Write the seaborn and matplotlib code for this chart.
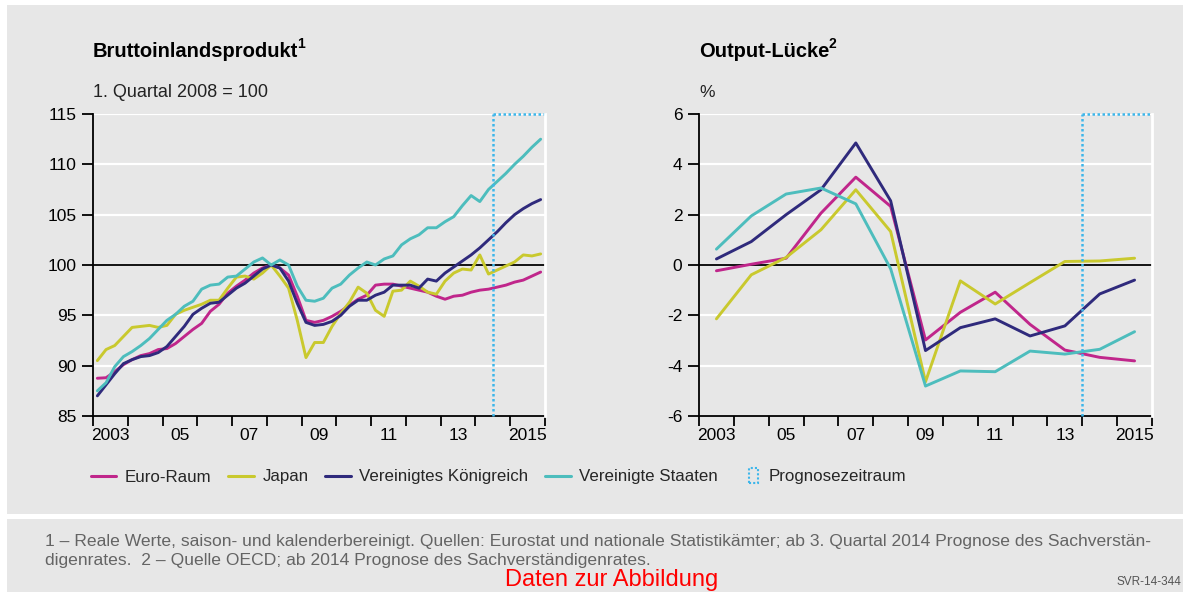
import matplotlib
matplotlib.use("Agg")
import matplotlib.pyplot as plt
import pandas as pd
import seaborn as sns
from matplotlib.lines import Line2D
from matplotlib.patches import Rectangle
from matplotlib.legend_handler import HandlerPatch

# ---------------- data ----------------
quarters = pd.period_range("2003Q1", "2015Q4", freq="Q")
years = list(range(2003, 2016))

series_names = ["Euro-Raum", "Japan", "Vereinigtes Königreich", "Vereinigte Staaten"]

gdp_euro = [88.75, 88.8, 89.4, 90.1,
            90.6, 91.0, 91.2, 91.6,
            91.7, 92.2, 92.9, 93.6,
            94.2, 95.4, 96.1, 97.2,
            97.9, 98.5, 99.2, 99.7,
            100.0, 99.7, 99.0, 96.9,
            94.5, 94.3, 94.5, 94.9,
            95.4, 96.0, 96.6, 97.0,
            98.0, 98.1, 98.1, 97.9,
            97.7, 97.5, 97.3, 96.9,
            96.6, 96.9, 97.0, 97.3,
            97.5, 97.6, 97.8, 98.0,
            98.3, 98.5, 98.9, 99.3]
gdp_japan = [90.5, 91.6, 92.0, 92.9,
             93.8, 93.9, 94.0, 93.8,
             94.0, 95.1, 95.5, 95.8,
             96.1, 96.5, 96.5, 97.7,
             98.8, 98.9, 98.6, 99.2,
             100.0, 98.9, 97.7, 94.5,
             90.8, 92.3, 92.3, 93.9,
             95.2, 96.3, 97.8, 97.2,
             95.5, 94.9, 97.4, 97.5,
             98.4, 97.9, 97.3, 97.1,
             98.4, 99.2, 99.6, 99.5,
             101.0, 99.1, 99.5, 99.9,
             100.3, 101.0, 100.9, 101.1]
gdp_uk = [87.0, 88.1, 89.2, 90.2,
          90.6, 90.9, 91.0, 91.3,
          91.9, 92.9, 93.9, 95.1,
          95.7, 96.2, 96.3, 97.0,
          97.7, 98.2, 98.9, 99.6,
          100.0, 99.7, 98.4, 96.2,
          94.3, 94.0, 94.1, 94.4,
          95.0, 95.9, 96.5, 96.5,
          97.0, 97.3, 98.0, 98.0,
          98.0, 97.7, 98.6, 98.4,
          99.2, 99.8, 100.4, 101.0,
          101.7, 102.5, 103.3, 104.2,
          105.0, 105.6, 106.1, 106.5]
gdp_us = [87.5, 88.3, 89.9, 90.9,
          91.4, 92.0, 92.7, 93.6,
          94.5, 95.1, 95.9, 96.4,
          97.6, 98.0, 98.1, 98.8,
          98.9, 99.6, 100.3, 100.7,
          100.0, 100.5, 100.0, 97.9,
          96.5, 96.4, 96.7, 97.7,
          98.1, 99.0, 99.7, 100.3,
          100.0, 100.6, 100.9, 102.0,
          102.6, 103.0, 103.7, 103.7,
          104.3, 104.8, 105.9, 106.9,
          106.3, 107.5, 108.3, 109.1,
          110.0, 110.8, 111.7, 112.5]

gap_euro = [-0.23, 0.03, 0.27, 2.06, 3.49, 2.33, -2.98, -1.88, -1.08, -2.36, -3.38, -3.67, -3.81]
gap_japan = [-2.14, -0.39, 0.3, 1.4, 2.99, 1.33, -4.64, -0.63, -1.55, -0.7, 0.14, 0.16, 0.27]
gap_uk = [0.24, 0.93, 2.0, 2.99, 4.85, 2.55, -3.4, -2.49, -2.14, -2.82, -2.42, -1.15, -0.6]
gap_us = [0.63, 1.95, 2.82, 3.06, 2.43, -0.15, -4.81, -4.21, -4.24, -3.42, -3.54, -3.35, -2.65]

forecast_label = "Prognosezeitraum"
forecast_start_gdp = 2014.5   # ab 3. Quartal 2014
forecast_start_gap = 2014.0   # ab 2014

xtick_years = [2003, 2005, 2007, 2009, 2011, 2013, 2015]
xtick_labels = ["2003", "05", "07", "09", "11", "13", "2015"]
gdp_yticks = [85, 90, 95, 100, 105, 110, 115]
gap_yticks = [-6, -4, -2, 0, 2, 4, 6]

colors = ["#c0268b", "#c9c92e", "#2f2a7c", "#4dbdbd"]
forecast_color = "#3db6ea"
bg = "#e7e7e7"

# ---------------- frames ----------------
q_pos = [p.year + (p.quarter - 0.5) / 4 for p in quarters]
gdp_df = pd.concat([
    pd.DataFrame({"pos": q_pos, "value": v, "series": n})
    for n, v in zip(series_names, [gdp_euro, gdp_japan, gdp_uk, gdp_us])
])
y_pos = [y + 0.5 for y in years]
gap_df = pd.concat([
    pd.DataFrame({"pos": y_pos, "value": v, "series": n})
    for n, v in zip(series_names, [gap_euro, gap_japan, gap_uk, gap_us])
])

# ---------------- style ----------------
sns.set_theme(style="white")
plt.rcParams["font.family"] = ["Liberation Sans", "DejaVu Sans"]
plt.rcParams["axes.unicode_minus"] = False

W, H = 1183, 592
fig = plt.figure(figsize=(W / 100, H / 100), dpi=100)
fig.patch.set_facecolor("white")

def fx(px):
    return px / W

def fy(py):
    return 1 - py / H

# background panels
fig.add_artist(Rectangle((fx(7), fy(514)), 1 - fx(7), (514 - 5) / H,
                         transform=fig.transFigure, facecolor=bg, edgecolor="none", zorder=-10))
fig.add_artist(Rectangle((fx(7), 0), 1 - fx(7), (592 - 519) / H,
                         transform=fig.transFigure, facecolor=bg, edgecolor="none", zorder=-10))

ax1 = fig.add_axes([fx(93), fy(416), fx(545) - fx(93), (416 - 114) / H])
ax2 = fig.add_axes([fx(699), fy(416), fx(1152) - fx(699), (416 - 114) / H])

panels = [
    (ax1, gdp_df, gdp_yticks, 100, forecast_start_gdp),
    (ax2, gap_df, gap_yticks, 0, forecast_start_gap),
]

for ax, df, yt, refline, fstart in panels:
    ax.set_facecolor(bg)
    sns.lineplot(data=df, x="pos", y="value", hue="series", hue_order=series_names,
                 palette=colors, linewidth=2.1, legend=False, ax=ax, zorder=3)
    ax.set_xlim(years[0], years[-1] + 1)
    ax.set_ylim(yt[0], yt[-1])
    ax.set_yticks(yt)
    ax.set_yticklabels([str(v) for v in yt])
    ax.yaxis.grid(True, color="white", linewidth=1.6)
    ax.xaxis.grid(False)
    ax.set_axisbelow(True)
    ax.axhline(refline, color="black", linewidth=1.3, zorder=2)
    # forecast box
    ax.plot([fstart, fstart], [yt[0], yt[-1]], color=forecast_color, linewidth=1.8,
            linestyle=(0, (1, 1)), zorder=4, clip_on=False)
    ax.plot([fstart, years[-1] + 1], [yt[-1], yt[-1]], color=forecast_color, linewidth=1.8,
            linestyle=(0, (1, 1)), zorder=4, clip_on=False)
    # x ticks
    ax.set_xticks(list(range(years[0], years[-1] + 2)))
    ax.set_xticklabels([])
    ax.set_xticks([y + 0.5 for y in xtick_years], minor=True)
    ax.set_xticklabels(xtick_labels, minor=True)
    ax.tick_params(axis="x", which="major", direction="out", length=7, width=1.3,
                   color="black", bottom=True)
    ax.tick_params(axis="x", which="minor", length=0, labelsize=12.5, pad=9,
                   labelcolor="black")
    ax.tick_params(axis="y", direction="out", length=8, width=1.3, color="black",
                   labelsize=12.5, pad=4, left=True, labelcolor="black")
    ax.set_xlabel("")
    ax.set_ylabel("")
    for s in ["left", "bottom"]:
        ax.spines[s].set_color("black")
        ax.spines[s].set_linewidth(1.3)
        ax.spines[s].set_visible(True)
    ax.spines["top"].set_visible(False)
    ax.spines["right"].set_color("white")
    ax.spines["right"].set_linewidth(2.0)
    ax.spines["right"].set_zorder(5)
    ax.spines["right"].set_visible(True)

# titles with superscripts
renderer = fig.canvas.get_renderer()
for xpx, title, sup in [(93, "Bruttoinlandsprodukt", "1"), (699, "Output-Lücke", "2")]:
    t = fig.text(fx(xpx), fy(57), title, fontsize=14.5, fontweight="bold",
                 va="baseline", ha="left", color="black")
    bb = t.get_window_extent(renderer=renderer)
    fig.text(bb.x1 / W - fx(1), fy(48), sup, fontsize=10, fontweight="bold",
             va="baseline", ha="left", color="black")
fig.text(fx(93), fy(97), "1. Quartal 2008 = 100", fontsize=13, va="baseline", ha="left",
         color="#222222")
fig.text(fx(699), fy(97), "%", fontsize=12.5, va="baseline", ha="left", color="#222222")

# legend
def small_box(legend, orig_handle, xdescent, ydescent, width, height, fontsize):
    h = height * 1.25
    w = h * 0.6
    return Rectangle((width - w - xdescent - 2, -ydescent - (h - height) / 2), w, h)

handles = [Line2D([], [], color=c, linewidth=2.2) for c in colors]
box = Rectangle((0, 0), 1, 1, facecolor="none", edgecolor=forecast_color,
                linewidth=1.5, linestyle=(0, (1, 1)))
handles.append(box)
labels = series_names + [forecast_label]
fig.legend(handles, labels, loc="center left", bbox_to_anchor=(fx(91), fy(477)),
           ncol=5, frameon=False, fontsize=12.2, handlelength=1.5, handletextpad=0.5,
           columnspacing=1.0, borderaxespad=0, borderpad=0,
           handler_map={Rectangle: HandlerPatch(patch_func=small_box)})

# footer
foot_line1 = ("1 – Reale Werte, saison- und kalenderbereinigt. Quellen: Eurostat und nationale "
              "Statistikämter; ab 3. Quartal 2014 Prognose des Sachverstän-")
foot_line2 = "digenrates.  2 – Quelle OECD; ab 2014 Prognose des Sachverständigenrates."
fig.text(fx(45), fy(546), foot_line1, fontsize=12.6, color="#646464", va="baseline", ha="left")
fig.text(fx(45), fy(565), foot_line2, fontsize=12.6, color="#646464", va="baseline", ha="left")
fig.text(fx(612), fy(586), "Daten zur Abbildung", fontsize=17, color="#ff0000",
         va="baseline", ha="center")
fig.text(fx(1181), fy(585), "SVR-14-344", fontsize=8.5, color="#555555", va="baseline", ha="right")

fig.savefig("out.png", dpi=100, facecolor=fig.get_facecolor())
